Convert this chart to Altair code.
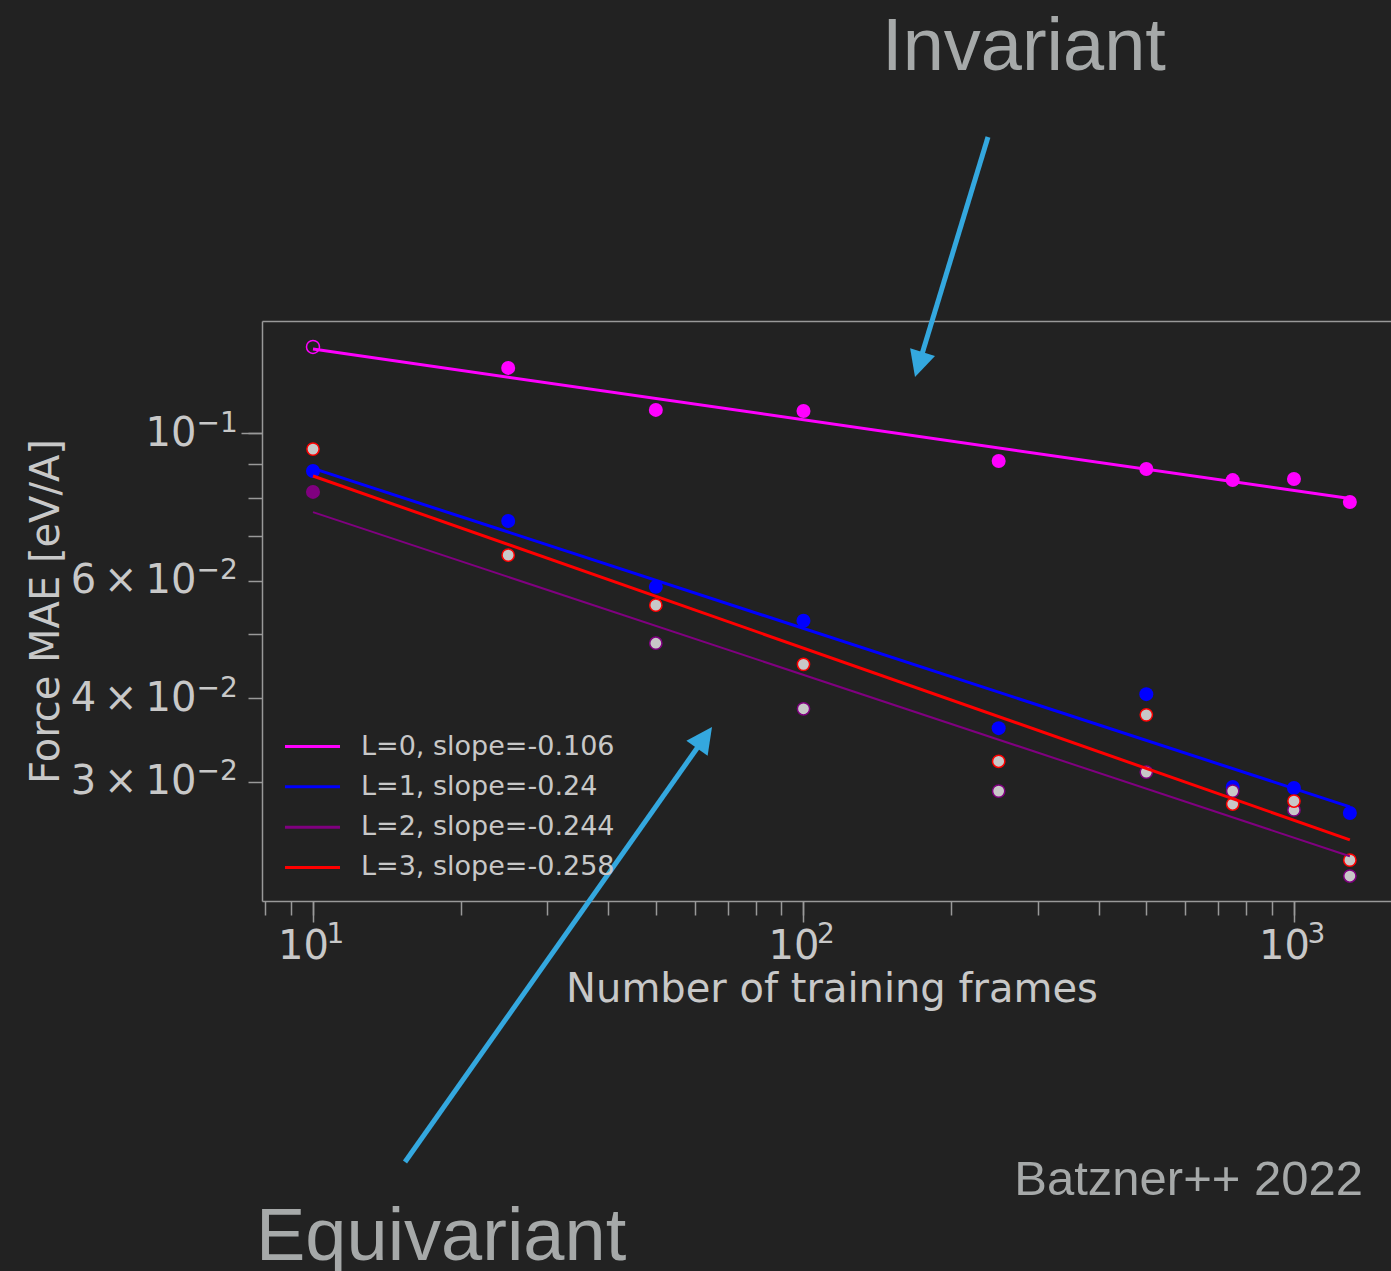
import math

import altair as alt
import pandas as pd

# ---- measured force errors (eV/A) vs. number of training frames ----
frames = [10, 25, 50, 100, 250, 500, 750, 1000, 1300]
mae_l0 = [0.1346, 0.1252, 0.1083, 0.1079, 0.0908, 0.0883, 0.0850, 0.0853, 0.0788]
mae_l1 = [0.0877, 0.0738, 0.0588, 0.0523, 0.0361, 0.0406, 0.02946, 0.02936, 0.02694]
mae_l2 = [0.0816, None, 0.0484, 0.0386, 0.02905, 0.03102, 0.02905, 0.02722, 0.02167]
mae_l3 = [0.0946, 0.0656, 0.0552, 0.0450, 0.0322, 0.0378, 0.02778, 0.02807, 0.02289]

# ---- power-law fits: value at 10 frames and the fitted slope ----
series = ["L=0", "L=1", "L=2", "L=3"]
fit_at_first = [0.1336, 0.0885, 0.0761, 0.0862]
slopes = [-0.106, -0.24, -0.244, -0.258]

# ---- axis tick values and labels (mantissa and exponent drawn separately) ----
x_minor = [8, 9, 20, 30, 40, 50, 60, 70, 80, 90,
           200, 300, 400, 500, 600, 700, 800, 900]
x_major = [10, 100, 1000]
x_major_base = ["10", "10", "10"]
x_major_exp = ["1", "2", "3"]
y_minor = [0.03, 0.04, 0.05, 0.06, 0.07, 0.08, 0.09]
y_major = [0.1]
y_label_values = [0.1, 0.06, 0.04, 0.03]
y_label_base = ["10", "6\u2009×\u200910", "4\u2009×\u200910", "3\u2009×\u200910"]
y_label_exp = ["−1", "−2", "−2", "−2"]

# ---- styling ----
BG = "#222222"
FRAME = "#999999"
TEXT = "#c8c8c8"
NOTE = "#a6a9a9"
ARROW = "#34a8df"
FONT = "DejaVu Sans"
line_colors = ["#ff00ff", "#0000ff", "#800080", "#ff0000"]
line_widths = [3, 3, 2, 3]
# marker style per series: fill, stroke, stroke width, size
marker_style = {
    "L=0": ("#ff00ff", "#ff00ff", 0, 196),
    "L=1": ("#0000ff", "#0000ff", 0, 196),
    "L=2": ("#c8c8c8", "#800080", 1.5, 150),
    "L=3": ("#c8c8c8", "#ff0000", 1.5, 150),
}
# the first L=0 point is drawn hollow, the first L=2 point solid
first_point_style = {
    "L=0": ("transparent", "#ff00ff", 1.5, 169),
    "L=2": ("#800080", "#800080", 0, 196),
}

labels = [f"{s}, slope={m}" for s, m in zip(series, slopes)]

rows = []
for name, vals in zip(series, [mae_l0, mae_l1, mae_l2, mae_l3]):
    for i, (f, v) in enumerate(zip(frames, vals)):
        if v is None:
            continue
        fill, stroke, sw, size = marker_style[name]
        if i == 0 and name in first_point_style:
            fill, stroke, sw, size = first_point_style[name]
        rows.append(dict(frames=f, mae=v, series=name, fill=fill,
                         stroke=stroke, sw=sw, size=size))
points_df = pd.DataFrame(rows)

line_rows = []
for lab, c, m, w in zip(labels, fit_at_first, slopes, line_widths):
    for f in (frames[0], frames[-1]):
        line_rows.append(dict(frames=f, mae=c * (f / frames[0]) ** m,
                              fit=lab, lw=w))
lines_df = pd.DataFrame(line_rows)

W, H = 1129, 580
x_scale = alt.Scale(type="log", domain=[7.871, 1577], nice=False)
y_scale = alt.Scale(type="log", domain=[0.01988, 0.1472], nice=False)


def expr(values, texts):
    return " : ".join(
        f"datum.value == {v} ? '{t}'" for v, t in zip(values, texts)
    ) + " : ''"


common = dict(grid=False, labelOverlap=False, labelFlush=False,
              labelBound=False, labelFont=FONT, labelColor=TEXT)

# minor ticks plus the mantissa part of each label
x_axis_main = alt.Axis(
    values=x_minor + x_major, labelExpr=expr(x_major, x_major_base),
    tickSize=14, tickColor=FRAME, tickWidth=1.5,
    domainColor=FRAME, domainWidth=1.5,
    labelFontSize=40, labelBaseline="alphabetic", labelAlign="center",
    labelPadding=43, labelOffset=-10,
    title="Number of training frames", titleFont=FONT,
    titleFontSize=40, titleFontWeight="normal", titleColor=TEXT,
    titleX=569.5, titleY=100, titleBaseline="alphabetic", titleAlign="center",
    **common,
)
y_axis_main = alt.Axis(
    values=y_minor + y_major, labelExpr=expr(y_label_values, y_label_base),
    tickSize=14, tickColor=FRAME, tickWidth=1.5,
    domainColor=FRAME, domainWidth=1.5,
    labelFontSize=40, labelBaseline="middle", labelAlign="right",
    labelPadding=52,
    title="Force MAE [eV/A]", titleFont=FONT, titleFontSize=40,
    titleFontWeight="normal", titleColor=TEXT, titleAngle=270,
    titleX=-204, titleY=290, titleBaseline="alphabetic", titleAlign="center",
    **common,
)
# longer ticks at the decades
x_axis_major = alt.Axis(orient="bottom", values=x_major, labels=False,
                        tickSize=21, tickColor=FRAME, tickWidth=1.5,
                        domain=False, grid=False, title=None)
y_axis_major = alt.Axis(orient="left", values=y_major, labels=False,
                        tickSize=21, tickColor=FRAME, tickWidth=1.5,
                        domain=False, grid=False, title=None)
# exponents, raised and in a smaller size
x_axis_exp = alt.Axis(
    orient="bottom", values=x_major, labelExpr=expr(x_major, x_major_exp),
    tickSize=0, tickOpacity=0, domain=False, title=None,
    labelFontSize=28, labelBaseline="alphabetic", labelAlign="left",
    labelPadding=41, labelOffset=13, **common,
)
y_axis_exp = alt.Axis(
    orient="left", values=y_label_values,
    labelExpr=expr(y_label_values, y_label_exp),
    tickSize=0, tickOpacity=0, domain=False, title=None,
    labelFontSize=28, labelBaseline="middle", labelAlign="left",
    labelPadding=66, labelOffset=-10, **common,
)
top_axis = alt.Axis(orient="top", labels=False, ticks=False, grid=False,
                    domainColor=FRAME, domainWidth=1.5, title=None)

points = alt.Chart(points_df).mark_point(filled=True, opacity=1).encode(
    x=alt.X("frames:Q", scale=x_scale, axis=x_axis_main),
    y=alt.Y("mae:Q", scale=y_scale, axis=y_axis_main),
    fill=alt.Fill("fill:N", scale=None),
    stroke=alt.Stroke("stroke:N", scale=None),
    strokeWidth=alt.StrokeWidth("sw:Q", scale=None),
    size=alt.Size("size:Q", scale=None),
    order=alt.Order("series:N"),
)

major_ticks = alt.Chart(points_df).mark_point(opacity=0).encode(
    x=alt.X("frames:Q", scale=x_scale, axis=x_axis_major),
    y=alt.Y("mae:Q", scale=y_scale, axis=y_axis_major),
)
exponents = alt.Chart(points_df).mark_point(opacity=0).encode(
    x=alt.X("frames:Q", scale=x_scale, axis=x_axis_exp),
    y=alt.Y("mae:Q", scale=y_scale, axis=y_axis_exp),
)

fits = alt.Chart(lines_df).mark_line().encode(
    x=alt.X("frames:Q", scale=x_scale, axis=top_axis),
    y=alt.Y("mae:Q", scale=y_scale, axis=None),
    color=alt.Color(
        "fit:N",
        scale=alt.Scale(domain=labels, range=line_colors),
        sort=labels,
        legend=alt.Legend(
            orient="none", legendX=37, legendY=412, title=None, padding=0,
            symbolType="M-5,0L5,0", symbolSize=121, symbolStrokeWidth=3,
            labelFont=FONT, labelFontSize=27, labelColor=TEXT,
            labelOffset=35, rowPadding=12.33, labelLimit=600,
        ),
    ),
    strokeWidth=alt.StrokeWidth("lw:Q", scale=None),
    detail="fit:N",
)

one = pd.DataFrame({"k": [0]})


def note(text, x, y, size, align):
    return alt.Chart(one).mark_text(
        text=text, font="Liberation Sans", fontSize=size, color=NOTE,
        align=align, baseline="alphabetic",
    ).encode(x=alt.value(x), y=alt.value(y))


def arrow(start, tip, head=26, width=5):
    dx, dy = tip[0] - start[0], tip[1] - start[1]
    length = math.hypot(dx, dy)
    ux, uy = dx / length, dy / length
    end = (tip[0] - 15 * ux, tip[1] - 15 * uy)
    angle = math.degrees(math.atan2(dx, -dy)) % 360
    shaft = alt.Chart(one).mark_rule(
        color=ARROW, strokeWidth=width, strokeCap="butt"
    ).encode(x=alt.value(start[0]), y=alt.value(start[1]),
             x2=alt.value(end[0]), y2=alt.value(end[1]))
    tip_mark = alt.Chart(one).mark_point(
        shape="M0,0L0.5,1L-0.5,1Z", filled=True, opacity=1, color=ARROW,
        size=(2 * head) ** 2, angle=angle, strokeWidth=0,
    ).encode(x=alt.value(tip[0]), y=alt.value(tip[1]))
    return shaft + tip_mark


chart = alt.layer(
    points,
    major_ticks,
    exponents,
    fits,
    note("Invariant", 762, -251, 74, "center"),
    note("Equivariant", -6, 939, 74, "left"),
    note("Batzner++ 2022", 1101, 874, 49, "right"),
    arrow((726, -184), (653, 56)),
    arrow((143, 841), (450, 406)),
).resolve_axis(x="independent", y="independent").properties(
    width=W,
    height=H,
    padding={"left": 262, "top": 321, "right": 0, "bottom": 370},
    autosize=alt.AutoSizeParams(type="none"),
    background=BG,
).configure_view(stroke=None)

chart.save("out.html", embed_options={"renderer": "svg", "actions": False})
